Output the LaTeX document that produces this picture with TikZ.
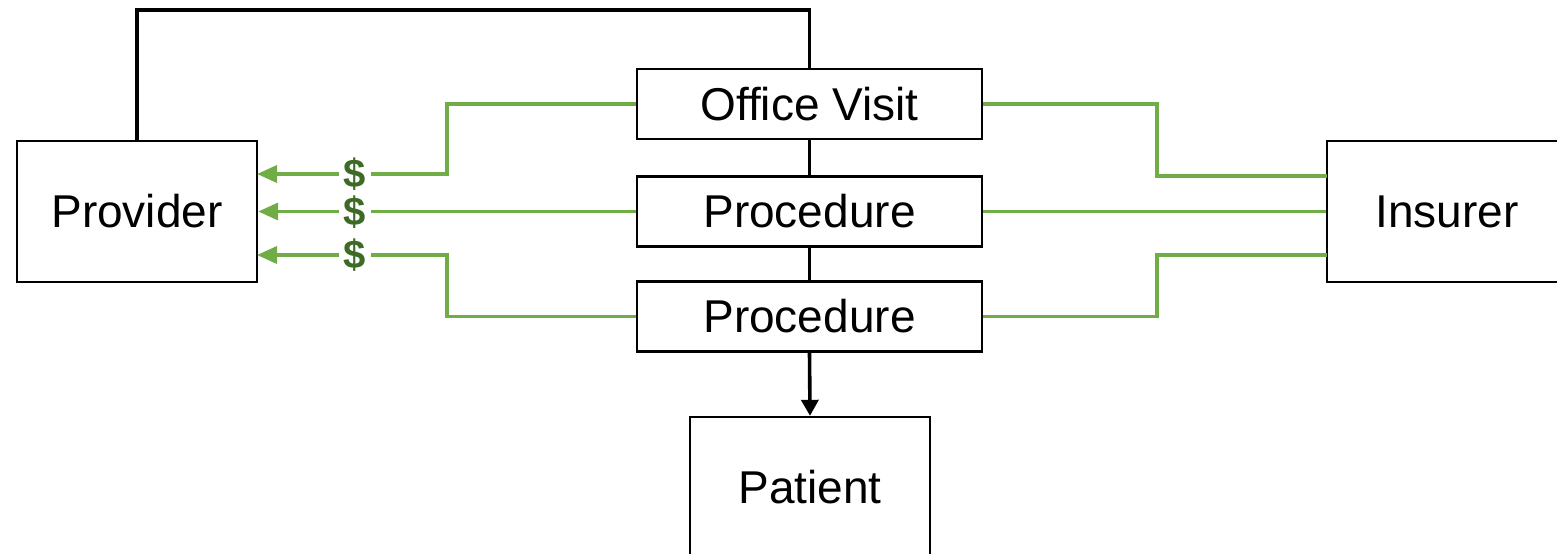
\documentclass[tikz,border=0pt]{standalone}
\usepackage{fontspec}
\setmainfont{Liberation Sans}
\usetikzlibrary{arrows.meta}
\definecolor{lgreen}{HTML}{70AD47}
\definecolor{dgreen}{HTML}{3D6B25}
\tikzset{
  box/.style={draw=black, line width=1.2pt, fill=white, minimum width=120pt, minimum height=70.5pt, inner sep=0pt, font=\fontsize{23}{27}\selectfont},
  wbox/.style={box, minimum width=172.5pt, minimum height=35pt},
  bline/.style={draw=black, line width=1.8pt},
  gline/.style={draw=lgreen, line width=1.8pt},
  garrow/.style={gline, -{Triangle[length=10pt,width=8.5pt]}},
  dollar/.style={fill=white, inner xsep=2.5pt, inner ysep=0pt, text=dgreen, font=\fontsize{20}{23}\selectfont\bfseries}
}
\begin{document}
\begin{tikzpicture}[x=0.5pt, y=-0.5pt]
\useasboundingbox (0,0) rectangle (1557,553);
% boxes
\node[box] (prov) at (137,211.5) {Provider};
\node[box] (ins) at (1447,211.5) {Insurer};
\node[wbox] (ov) at (809.5,104) {Office Visit};
\node[wbox] (pr1) at (809.5,211.5) {Procedure};
\node[wbox] (pr2) at (809.5,316.5) {Procedure};
\node[box] (pat) at (810,487.5) {Patient};
% black connectors
\coordinate (topc) at (137,10);
\draw[bline] (prov.north) -- (topc) -| (ov.north);
\draw[bline] (ov.south) -- (pr1.north);
\draw[bline] (pr1.south) -- (pr2.north);
\draw[bline, -{Triangle[length=8pt,width=8.5pt]}] (pr2.south) -- (pat.north);
% green connectors, left
\coordinate (pinA) at (257,174);
\coordinate (pinC) at (257,255);
\coordinate (lbA) at (447,174);
\coordinate (lbC) at (447,255);
\draw[garrow] (ov.west) -| (lbA) -- (pinA);
\draw[garrow] (pr1.west) -- (prov.east);
\draw[garrow] (pr2.west) -| (lbC) -- (pinC);
\node[dollar] (d1) at (355,174) {\$};
\node[dollar] (d2) at (355,212) {\$};
\node[dollar] (d3) at (355,255) {\$};
% green connectors, right
\coordinate (rinA) at (1327,176);
\coordinate (rinC) at (1327,255);
\coordinate (rbA) at (1157,176);
\coordinate (rbC) at (1157,255);
\draw[gline] (ov.east) -| (rbA) -- (rinA);
\draw[gline] (pr1.east) -- (ins.west);
\draw[gline] (pr2.east) -| (rbC) -- (rinC);
\end{tikzpicture}
\end{document}
